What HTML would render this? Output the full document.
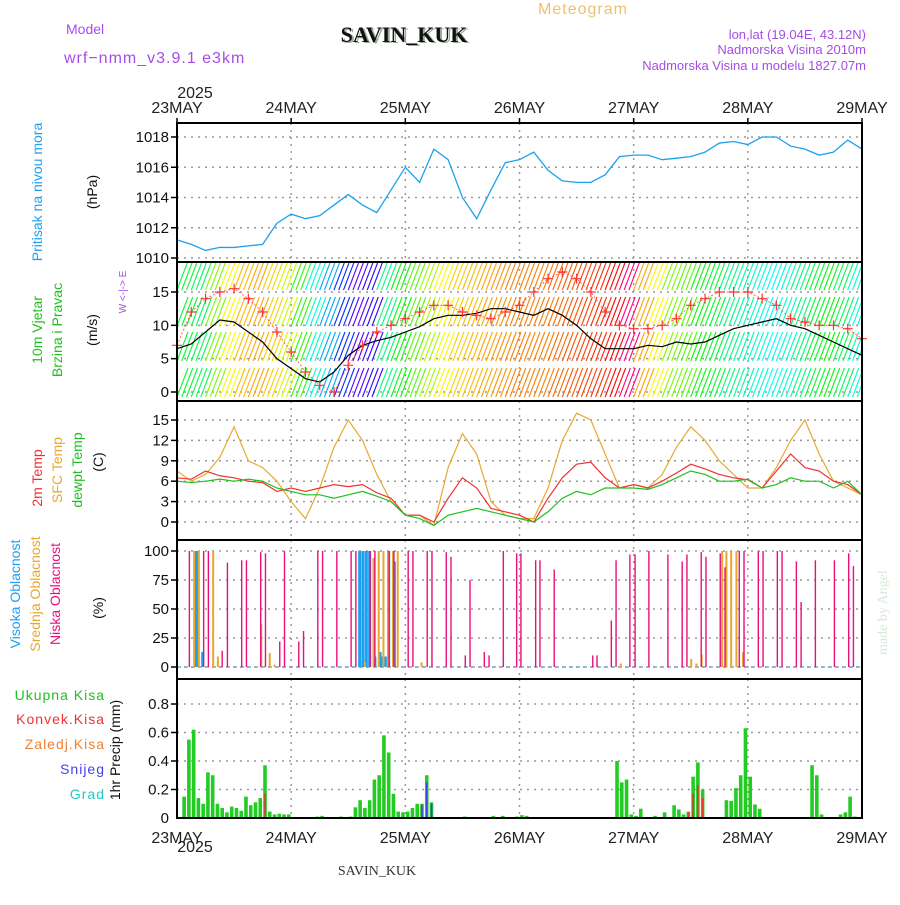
<!DOCTYPE html>
<html><head><meta charset="utf-8"><style>
body{margin:0;background:#fff;}
svg text{font-family:"Liberation Sans",sans-serif;}
</style></head><body>
<svg id="c" width="900" height="900" viewBox="0 0 900 900">
<defs><clipPath id="wclip"><rect x="177" y="262" width="685" height="139"/></clipPath></defs>
<text x="66" y="34" font-size="14" fill="#a64de6">Model</text>
<text x="64" y="63" font-size="16" fill="#a64de6" letter-spacing="1">wrf−nmm_v3.9.1  e3km</text>
<text x="406" y="43" font-size="22" font-weight="bold" text-anchor="middle" fill="#9a9" style="font-family:'Liberation Serif',serif">SAVIN_KUK</text>
<text x="404" y="42" font-size="22" font-weight="bold" text-anchor="middle" fill="#111" style="font-family:'Liberation Serif',serif">SAVIN_KUK</text>
<text x="583" y="14" font-size="16" text-anchor="middle" fill="#f0c070" letter-spacing="1">Meteogram</text>
<text x="866" y="39" font-size="13" text-anchor="end" fill="#a64de6">lon,lat (19.04E, 43.12N)</text>
<text x="866" y="54" font-size="13" text-anchor="end" fill="#a64de6">Nadmorska Visina 2010m</text>
<text x="866" y="70" font-size="13" text-anchor="end" fill="#a64de6">Nadmorska Visina u modelu 1827.07m</text>
<text x="195" y="98" font-size="16" text-anchor="middle" fill="#222">2025</text>
<text x="195" y="852" font-size="16" text-anchor="middle" fill="#222">2025</text>
<text x="377" y="875" font-size="14" text-anchor="middle" fill="#333" style="font-family:'Liberation Serif',serif">SAVIN_KUK</text>
<text transform="translate(887,655) rotate(-90)" font-size="14" fill="#d8e8d8" style="font-family:'Liberation Serif',serif">made by Angel</text>
<g id="g"></g>
</svg>
<script>
const days=["23MAY","24MAY","25MAY","26MAY","27MAY","28MAY","29MAY"];
const pressure=[1011.2,1010.9,1010.5,1010.7,1010.7,1010.8,1010.9,1012.3,1012.9,1012.6,1012.8,1013.5,1014.2,1013.5,1013.0,1014.5,1016.0,1015.0,1017.2,1016.5,1014.0,1012.6,1014.5,1016.3,1016.5,1017.0,1015.8,1015.1,1015.0,1015.0,1015.5,1016.7,1016.8,1016.8,1016.5,1016.6,1016.7,1017.0,1017.6,1017.7,1017.5,1018.0,1018.0,1017.4,1017.2,1016.8,1017.0,1017.8,1017.2];
const windSpeed=[6.5,7.2,9,10.8,10.5,9.0,7.5,5.0,3.5,2.0,1.5,3.0,5.5,7.0,7.7,8.2,9.0,9.8,11.0,11.5,11.5,11.8,12.5,12.5,12.0,11.5,12.5,11.5,10.0,8.0,6.5,6.5,6.5,7.0,6.8,7.5,7.2,7.5,8.5,9.5,10.0,10.5,11.0,10.0,9.5,8.5,7.5,6.5,5.5];
const windGust=[7,12,14,15,15.5,14,12,9,6,3,1,0,4,7,9,10,11,12,13,13,12,11.5,11,12,13,15,17,18,17,15,12,10,9.5,9.5,10,11,13,14,15,15,15,14,13,11,10.5,10,10,9.5,8];
const windHue=[130,140,90,60,45,40,50,70,110,170,200,230,260,250,150,120,100,80,60,50,45,40,35,30,30,30,25,20,15,10,0,330,40,60,90,100,120,130,150,160,170,180,170,150,130,120,140,170,180];
const temp2m=[6.5,6.3,7.5,6.8,6.5,6.0,5.8,4.5,5.0,4.5,5.0,5.5,5.2,5.5,4.3,3.5,1.0,1.0,0.0,3.5,6.5,5.0,2.0,1.5,1.0,0.0,3.5,6.5,8.5,8.8,6.5,5.0,5.5,5.0,6.0,7.2,8.5,7.8,7.0,6.5,6.2,5.0,7.5,10.0,8.0,7.5,6.0,5.5,4.0];
const tempSfc=[7.5,6.0,7.0,9.5,14.0,9.0,8.0,6.0,3.0,0.5,5.0,11,15,12,7,3,1,1.0,-0.5,8,13,10,3,1,0.5,0.5,5,12,16,15,10,5,5.5,5.0,7.0,11,14,12,9,7,5,5,8,12,15,10,6,5,4];
const dewpt=[6.0,5.8,6.0,6.3,6.0,6.3,6.0,5.0,4.5,4.0,4.0,3.5,4.0,4.5,3.8,3.0,1.0,0.5,-0.5,1.0,1.5,2.0,1.5,1.0,0.5,0,1.5,3.5,4.5,4.0,5.0,5.0,5.0,4.8,5.5,6.5,7.5,7.0,6.0,6.0,6.3,5.0,5.5,6.5,6.0,6.0,5.0,6.0,4.0];
const lowHours=[2.6,5.6,6.6,9.5,10.6,13.6,14.6,17.6,18.6,21.6,22.6,25.6,26.6,29.6,30.6,33.6,36.6,37.6,40.6,41.6,44.6,45.6,48.6,49.6,52.6,53.6,56.6,57.6,60.6,61.6,64.6,65.6,68.6,71.4,72.3,75.4,76.3,79.3,87.4,88.3,91.3,92.3,95.2,96.3,99.2,103.2,106.2,107.2,110.2,111.2,114.2,115.2,118.2,119.2,122.2,123.2,126.2,127.2,130.2,131.2,134.2,138.2,141.2,142.2];
const lowPct=[100,100,100,14,90,92,92,99,98,22,100,22,31,100,100,100,100,100,100,100,100,100,100,100,100,100,99,95,10,75,13,10,100,98,98,92,92,84,10,10,40,92,97,97,100,97,91,97,99,95,98,86,100,100,100,100,100,100,91,56,92,92,98,87];
const midHours=[3.6,4.6,7.6,8.6,17.7,19.5,20.5,39.5,41.3,42.4,43.4,44.5,45.4,46.4,51.4,93.3,108.1,109.2,110.3,114.6,115.5,116.5,117.6,119];
const midPct=[100,100,100,9,37,12,2,4,94,100,100,100,100,100,4,3,7,3,11,100,100,100,100,13];
const highHours=[3.9,4.3,5.4,38.4,39.1,39.8,40.5,41.6,42.7,43.2,43.8,44.5,45.7];
const highPct=[100,100,13,100,100,100,100,9,13,9,9,100,91];
const precipHours=[1,2,3,4,5,6,7,8,9,10,11,12,13,14,15,16,17,18,19,20,21,22,23,29,30,34,36,37,38,39,40,41,42,43,44,45,46,47,48,49,50,51,52,53,60,66,68,71,72,73,92,93,94,95,96,97,100,102,104,105,106,107,108,109,110,115,116,117,118,119,120,121,122,133,134,135,139,140,141,142];
const precipTotal=[.15,.55,.62,.14,.10,.32,.30,.10,.07,.04,.08,.07,.05,.15,.09,.11,.14,.37,.045,.025,.03,.025,.025,.01,.015,.01,.01,.075,.125,.07,.125,.27,.30,.58,.46,.17,.045,.04,.045,.07,.10,.10,.30,.11,.01,.015,.015,.01,.02,.015,.40,.25,.27,.025,.015,.065,.015,.04,.09,.06,.025,.045,.29,.39,.20,.125,.12,.21,.30,.63,.29,.095,.065,.37,.30,.025,.025,.04,.15,.01];
const convHours=[18,107,108,109,110];
const convVals=[.17,.04,.17,.23,.14];
const snowHours=[51,52,53];
const snowVals=[.09,.25,.10];

const NS="http://www.w3.org/2000/svg",G=document.getElementById('g');
const X0=177,X1=862,HOURS=144;
const xh=h=>X0+h*(X1-X0)/HOURS;
function mk(tag,attrs,parent){const e=document.createElementNS(NS,tag);for(const k in attrs)e.setAttribute(k,attrs[k]);(parent||G).appendChild(e);return e;}
function lin(d0,d1,p0,p1){return v=>p0+(v-d0)*(p1-p0)/(d1-d0);}
const yP=lin(1010,1018,258,137),yW=lin(0,15,392,292),yT=lin(0,15,522,420),yC=lin(0,100,667,551),yR=lin(0,0.8,818,704);
const panels=[[123,262],[262,401],[401,540],[540,679],[679,818]];
// grids
function hgrid(ticks,f,labels,name){
  ticks.forEach((t,i)=>{const y=f(t);
    const l=mk('line',{x1:X0,x2:X1,y1:y,y2:y,stroke:'#999','stroke-width':1.5,'stroke-dasharray':'2,5'});
    
    const tk=mk('line',{x1:X0-6,x2:X0,y1:y,y2:y,stroke:'#000','stroke-width':1.5});
    
    const tx=mk('text',{x:X0-8,y:y+5,'font-size':15,'text-anchor':'end',fill:'#111'});tx.textContent=labels[i];
    
  });
}
panels.forEach(p=>{for(let d=1;d<6;d++){const x=xh(d*24);
  const l=mk('line',{x1:x,x2:x,y1:p[0],y2:p[1],stroke:'#999','stroke-width':1.5,'stroke-dasharray':'2,5'});
  }});
const pT=[1010,1012,1014,1016,1018];hgrid(pT,yP,pT.map(String),'pressure');
const wT=[0,5,10,15];hgrid(wT,yW,wT.map(String),'wind');
const tT=[0,3,6,9,12,15];hgrid(tT,yT,tT.map(String),'temp');
const cT=[0,25,50,75,100];hgrid(cT,yC,cT.map(String),'cloud');
const rT=[0.2,0.4,0.6,0.8];hgrid(rT,yR,rT.map(String),'precip');
{const tx=mk('text',{x:X0-8,y:yR(0)+5,'font-size':15,'text-anchor':'end',fill:'#111'});tx.textContent='0';
}
// pressure line
const ptsP=pressure.map((v,i)=>xh(i*3)+','+yP(v)).join(' ');
const pl=mk('polyline',{points:ptsP,fill:'none',stroke:'#1ea0f0','stroke-width':1.3});

// wind barbs
const wg=mk('g',{'clip-path':'url(#wclip)'});

const rows=[290,326,361,397];
for(let h=0;h<HOURS;h+=1){const hue=windHue[Math.min(windHue.length-1,Math.floor(h/3))];
  rows.forEach(r=>{const x=xh(h);const b=mk('line',{x1:x,y1:r,x2:x+11,y2:r-29,stroke:'hsl('+hue+',95%,50%)','stroke-width':1.1},wg);
    });}
const ws=mk('polyline',{points:windSpeed.map((v,i)=>xh(i*3)+','+yW(v)).join(' '),fill:'none',stroke:'#000','stroke-width':1.2});

const wgl=mk('polyline',{points:windGust.map((v,i)=>xh(i*3)+','+yW(v)).join(' '),fill:'none',stroke:'#f44','stroke-width':0.8,'stroke-dasharray':'2,2'});

windGust.forEach((v,i)=>{const x=xh(i*3),y=yW(v);
  const c=mk('path',{d:`M${x-5},${y}H${x+5}M${x},${y-5}V${y+5}`,stroke:'#f33','stroke-width':1.2});
  });
// temps
[[tempSfc,'#e8a830','sfc-temp-line'],[temp2m,'#f03030','temp-2m-line'],[dewpt,'#20c020','dewpoint-line']].forEach(([a,c,n])=>{
  const l=mk('polyline',{points:a.map((v,i)=>xh(i*3)+','+yT(v)).join(' '),fill:'none',stroke:c,'stroke-width':1.2});
  });
// clouds
const base=mk('line',{x1:X0,x2:X1,y1:yC(0),y2:yC(0),stroke:'#7ac','stroke-width':1.5,'stroke-dasharray':'4,3'});

highHours.forEach((h,i)=>{const r=mk('rect',{x:xh(h)-1.5,y:yC(highPct[i]),width:3,height:yC(0)-yC(highPct[i]),fill:'#1ea0f0'});
  });
midHours.forEach((h,i)=>{const r=mk('rect',{x:xh(h)-1,y:yC(midPct[i]),width:2,height:yC(0)-yC(midPct[i]),fill:'#e8a830'});
  });
lowHours.forEach((h,i)=>{const r=mk('rect',{x:xh(h)-0.7,y:yC(lowPct[i]),width:1.4,height:yC(0)-yC(lowPct[i]),fill:'#e8107a'});
  });
// precip
precipHours.forEach((h,i)=>{const x=xh(h+0.5);const r=mk('rect',{x:x-1.8,y:yR(precipTotal[i]),width:3.6,height:yR(0)-yR(precipTotal[i]),fill:'#22cc22'});
  });
convHours.forEach((h,i)=>{const x=xh(h+0.5);const r=mk('rect',{x:x-0.8,y:yR(convVals[i]),width:1.6,height:yR(0)-yR(convVals[i]),fill:'#f03030'});
  });
snowHours.forEach((h,i)=>{const x=xh(h+0.5);const r=mk('rect',{x:x-0.8,y:yR(snowVals[i]),width:1.6,height:yR(0)-yR(snowVals[i]),fill:'#4040f0'});
  });
// frames
panels.forEach((p,i)=>{const r=mk('rect',{x:X0,y:p[0],width:X1-X0,height:p[1]-p[0],fill:'none',stroke:'#000','stroke-width':2});
  });
// day labels + ticks
days.forEach((d,i)=>{const x=xh(i*24);
  [[108,'top'],[838,'bottom']].forEach(([y,n])=>{const t=mk('text',{x:x,y:y+5,'font-size':16,'text-anchor':'middle',fill:'#222'});t.textContent=d;
    });
  const tk=mk('line',{x1:x,x2:x,y1:118,y2:123,stroke:'#000','stroke-width':1.5});
  });
// left rotated labels
function vlab(x,yc,txt,col,size,name){const t=mk('text',{transform:`translate(${x},${yc}) rotate(-90)`,'font-size':size||14,'text-anchor':'middle',fill:col});t.textContent=txt;
  }
vlab(42,192,'Pritisak na nivou mora','#1ea0f0',14,'pressure-label');
vlab(97,192,'(hPa)','#111',14,'pressure-unit');
vlab(42,330,'10m Vjetar','#20c020',14,'wind-label-1');
vlab(62,330,'Brzina i Pravac','#20c020',14,'wind-label-2');
vlab(97,330,'(m/s)','#111',14,'wind-unit');
vlab(126,292,'W <-|-> E','#a64de6',10,'wind-dir-label');
vlab(42,478,'2m Temp','#f03030',14,'temp-2m-label');
vlab(62,470,'SFC Temp','#e8a830',14,'sfc-temp-label');
vlab(82,470,'dewpt Temp','#20c020',14,'dewpt-label');
vlab(103,462,'(C)','#111',14,'temp-unit');
vlab(20,594,'Visoka Oblacnost','#1ea0f0',14,'high-cloud-label');
vlab(40,594,'Srednja Oblacnost','#e8a830',14,'mid-cloud-label');
vlab(60,594,'Niska Oblacnost','#e8107a',14,'low-cloud-label');
vlab(103,608,'(%)','#111',14,'cloud-unit');
vlab(120,750,'1hr Precip (mm)','#111',14,'precip-unit');
[['Ukupna  Kisa','#20c020',700],['Konvek.Kisa','#f03030',724],['Zaledj.Kisa','#f08030',749],['Snijeg','#4040f0',774],['Grad','#20c8c8',799]].forEach(([t,c,y])=>{
  const e=mk('text',{x:105,y:y,'font-size':14,'text-anchor':'end',fill:c,'letter-spacing':1});e.textContent=t;
  });
</script>
</body></html>
